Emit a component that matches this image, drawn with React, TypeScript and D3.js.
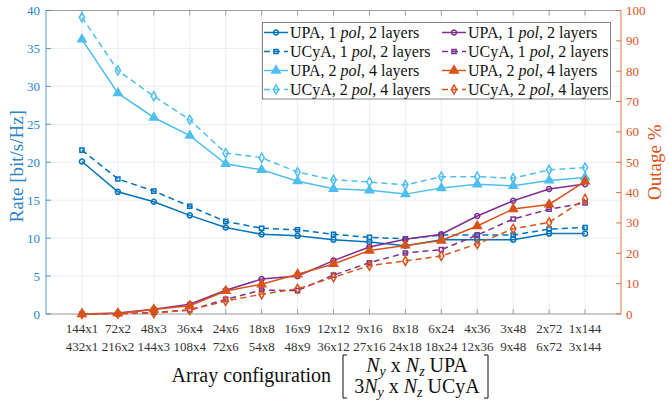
import React from "react";
import * as d3 from "d3";

const categoriesUPA = ["144x1","72x2","48x3","36x4","24x6","18x8","16x9","12x12","9x16","8x18","6x24","4x36","3x48","2x72","1x144"];
const categoriesUCyA = ["432x1","216x2","144x3","108x4","72x6","54x8","48x9","36x12","27x16","24x18","18x24","12x36","9x48","6x72","3x144"];

// Rate [bit/s/Hz] (left axis)
const rateUPA1 = [20.1,16.1,14.8,13.0,11.4,10.5,10.3,9.8,9.5,9.0,9.8,9.8,9.8,10.6,10.6];
const rateUCyA1 = [21.6,17.8,16.2,14.2,12.2,11.3,11.1,10.5,10.1,9.9,10.4,10.4,10.4,11.2,11.4];
const rateUPA2 = [36.2,29.1,25.9,23.5,19.8,19.0,17.5,16.5,16.3,15.8,16.6,17.1,16.9,17.6,18.0];
const rateUCyA2 = [39.1,32.1,28.7,25.6,21.2,20.6,18.7,17.7,17.4,17.0,18.1,18.1,17.9,19.0,19.3];

// Outage % (right axis)
const outUPA1 = [0,0.3,1.6,3.2,7.8,11.5,12.5,17.6,22.1,24.6,26.3,32.3,37.3,41.2,42.8];
const outUCyA1 = [0,0.1,0.5,1.3,4.8,7.9,7.7,12.8,16.9,20.1,21.2,26.0,31.3,34.5,36.6];
const outUPA2 = [0,0.2,1.5,2.7,7.6,9.8,13.1,16.5,20.9,22.6,24.2,29.0,34.6,36.1,43.7];
const outUCyA2 = [0,0.1,0.3,1.3,4.3,6.5,8.3,12.1,15.9,17.5,19.1,23.1,28.1,30.2,37.9];

const leftTicks = [0,5,10,15,20,25,30,35,40];
const rightTicks = [0,10,20,30,40,50,60,70,80,90,100];

const C_DB = "#0072BD";
const C_LB = "#4DBEEE";
const C_PU = "#7E2F8E";
const C_OR = "#D95319";
const LEFT_COL = "#2a84c6";
const FS: React.CSSProperties = { fontFamily: "Liberation Serif" };

type Series = { label: string; pol: string; layers: string; values: number[]; axis: "L" | "R"; color: string; dashed: boolean; marker: "circle" | "square" | "triangle" | "diamond" };

const series: Series[] = [
  { label: "UPA", pol: "1", layers: "2", values: rateUPA1, axis: "L", color: C_DB, dashed: false, marker: "circle" },
  { label: "UCyA", pol: "1", layers: "2", values: rateUCyA1, axis: "L", color: C_DB, dashed: true, marker: "square" },
  { label: "UPA", pol: "2", layers: "4", values: rateUPA2, axis: "L", color: C_LB, dashed: false, marker: "triangle" },
  { label: "UCyA", pol: "2", layers: "4", values: rateUCyA2, axis: "L", color: C_LB, dashed: true, marker: "diamond" },
  { label: "UPA", pol: "1", layers: "2", values: outUPA1, axis: "R", color: C_PU, dashed: false, marker: "circle" },
  { label: "UCyA", pol: "1", layers: "2", values: outUCyA1, axis: "R", color: C_PU, dashed: true, marker: "square" },
  { label: "UPA", pol: "2", layers: "4", values: outUPA2, axis: "R", color: C_OR, dashed: false, marker: "triangle" },
  { label: "UCyA", pol: "2", layers: "4", values: outUCyA2, axis: "R", color: C_OR, dashed: true, marker: "diamond" },
];

const W = 669, H = 405;
const PL = 46, PR = 621, PT = 10.5, PB = 314;

const x = d3.scaleLinear().domain([0, categoriesUPA.length + 1]).range([PL, PR]);
const yL = d3.scaleLinear().domain([0, 40]).range([PB, PT]);
const yR = d3.scaleLinear().domain([0, 100]).range([PB, PT]);

const symTypes: Record<string, d3.SymbolType> = {
  circle: d3.symbolCircle,
  square: d3.symbolSquare,
  triangle: d3.symbolTriangle,
  diamond: d3.symbolDiamond,
};
const symSize: Record<string, number> = { circle: 20, square: 17, triangle: 30, diamond: 24 };

function Marker({ type, color, cx, cy }: { type: string; color: string; cx: number; cy: number }) {
  const p = d3.symbol().type(symTypes[type]).size(symSize[type])() as string;
  const filled = type === "triangle";
  return <path d={p} transform={`translate(${cx},${cy})`} fill={filled ? color : "none"} stroke={color} strokeWidth={1.5} />;
}

export default function App() {
  const idx = d3.range(categoriesUPA.length);
  const line = (ys: d3.ScaleLinear<number, number>) =>
    d3.line<number>().x((_, i) => x(i + 1)).y((v) => ys(v));

  const legCol1 = 263, legCol2 = 441, legRow0 = 32.5, legDy = 19;

  return (
    <svg width={W} height={H} style={{ position: "absolute", left: 0, top: 0, background: "white" }}>
      <rect x={0} y={0} width={W} height={H} fill="white" />
      {/* grid */}
      {leftTicks.map((t) => (
        <line key={"gh" + t} x1={PL} x2={PR} y1={yL(t)} y2={yL(t)} stroke="#e4ebf2" strokeWidth={0.8} />
      ))}
      {idx.map((i) => (
        <line key={"gv" + i} x1={x(i + 1)} x2={x(i + 1)} y1={PT} y2={PB} stroke="#e4ebf2" strokeWidth={0.8} />
      ))}
      {/* box top/bottom */}
      <line x1={PL} x2={PR} y1={PT} y2={PT} stroke="#8a8a8a" strokeWidth={0.8} />
      <line x1={PL} x2={PR} y1={PB} y2={PB} stroke="#8a8a8a" strokeWidth={0.8} />
      {/* x ticks */}
      {idx.map((i) => (
        <g key={"xt" + i}>
          <line x1={x(i + 1)} x2={x(i + 1)} y1={PB} y2={PB - 5} stroke="#8a8a8a" strokeWidth={0.8} />
          <line x1={x(i + 1)} x2={x(i + 1)} y1={PT} y2={PT + 5} stroke="#8a8a8a" strokeWidth={0.8} />
          <text x={x(i + 1)} y={333} textAnchor="middle" fontSize={13} fill="#333" style={FS}>{categoriesUPA[i]}</text>
          <text x={x(i + 1)} y={351} textAnchor="middle" fontSize={13} fill="#333" style={FS}>{categoriesUCyA[i]}</text>
        </g>
      ))}
      {/* left axis */}
      <line x1={PL} x2={PL} y1={PT} y2={PB} stroke={LEFT_COL} strokeWidth={0.8} />
      {leftTicks.map((t) => (
        <g key={"lt" + t}>
          <line x1={PL} x2={PL + 5} y1={yL(t)} y2={yL(t)} stroke={LEFT_COL} strokeWidth={0.8} />
          <text x={40} y={yL(t) + 4.5} textAnchor="end" fontSize={13} fill={LEFT_COL} style={FS}>{t}</text>
        </g>
      ))}
      <text transform={`translate(23,${(PT + PB) / 2 + 4}) rotate(-90)`} textAnchor="middle" fontSize={19} fill={LEFT_COL} style={FS}>Rate [bit/s/Hz]</text>
      {/* right axis */}
      <line x1={PR} x2={PR} y1={PT} y2={PB} stroke={C_OR} strokeWidth={0.8} />
      {rightTicks.map((t) => (
        <g key={"rt" + t}>
          <line x1={PR} x2={PR - 5} y1={yR(t)} y2={yR(t)} stroke={C_OR} strokeWidth={0.8} />
          <text x={626} y={yR(t) + 4.5} textAnchor="start" fontSize={13} fill={C_OR} style={FS}>{t}</text>
        </g>
      ))}
      <text transform={`translate(661,${(PT + PB) / 2}) rotate(-90)`} textAnchor="middle" fontSize={19} fill={C_OR} style={FS}>Outage %</text>

      {/* series */}
      {series.map((s, k) => {
        const ys = s.axis === "L" ? yL : yR;
        return (
          <g key={"s" + k}>
            <path d={line(ys)(s.values) as string} fill="none" stroke={s.color} strokeWidth={1.5} strokeDasharray={s.dashed ? "6,4" : undefined} />
            {s.values.map((v, i) => (
              <Marker key={i} type={s.marker} color={s.color} cx={x(i + 1)} cy={ys(v)} />
            ))}
          </g>
        );
      })}

      {/* legend */}
      <rect x={262.5} y={22.5} width={348} height={76.5} fill="white" stroke="#666" strokeWidth={0.8} />
      {series.map((s, k) => {
        const col = k < 4 ? 0 : 1;
        const row = k % 4;
        const lx = col === 0 ? legCol1 : legCol2;
        const ly = legRow0 + row * legDy;
        return (
          <g key={"lg" + k}>
            <line x1={lx + 1} x2={lx + 25} y1={ly} y2={ly} stroke={s.color} strokeWidth={1.5} strokeDasharray={s.dashed ? "6,4" : undefined} />
            <Marker type={s.marker} color={s.color} cx={lx + 13} cy={ly} />
            <text x={lx + 27} y={ly + 5.5} fontSize={16} fill="#111" style={FS}>
              {s.label}, {s.pol} <tspan fontStyle="italic">pol</tspan>, {s.layers} layers
            </text>
          </g>
        );
      })}

      {/* x axis title */}
      <text x={331} y={382} textAnchor="end" fontSize={20} fill="#111" style={FS}>Array configuration</text>
      <path d="M347,355 H343 V398 H347" fill="none" stroke="#111" strokeWidth={1} />
      <path d="M484,355 H488 V398 H484" fill="none" stroke="#111" strokeWidth={1} />
      <text x={417} y={372} textAnchor="middle" fontSize={20} fill="#111" style={FS}>
        <tspan fontStyle="italic">N</tspan><tspan fontSize={14} fontStyle="italic" dy={4}>y</tspan>
        <tspan dy={-4}> x </tspan>
        <tspan fontStyle="italic">N</tspan><tspan fontSize={14} fontStyle="italic" dy={4}>z</tspan>
        <tspan dy={-4}> UPA</tspan>
      </text>
      <text x={417} y={393} textAnchor="middle" fontSize={20} fill="#111" style={FS}>
        3<tspan fontStyle="italic">N</tspan><tspan fontSize={14} fontStyle="italic" dy={4}>y</tspan>
        <tspan dy={-4}> x </tspan>
        <tspan fontStyle="italic">N</tspan><tspan fontSize={14} fontStyle="italic" dy={4}>z</tspan>
        <tspan dy={-4}> UCyA</tspan>
      </text>
    </svg>
  );
}
